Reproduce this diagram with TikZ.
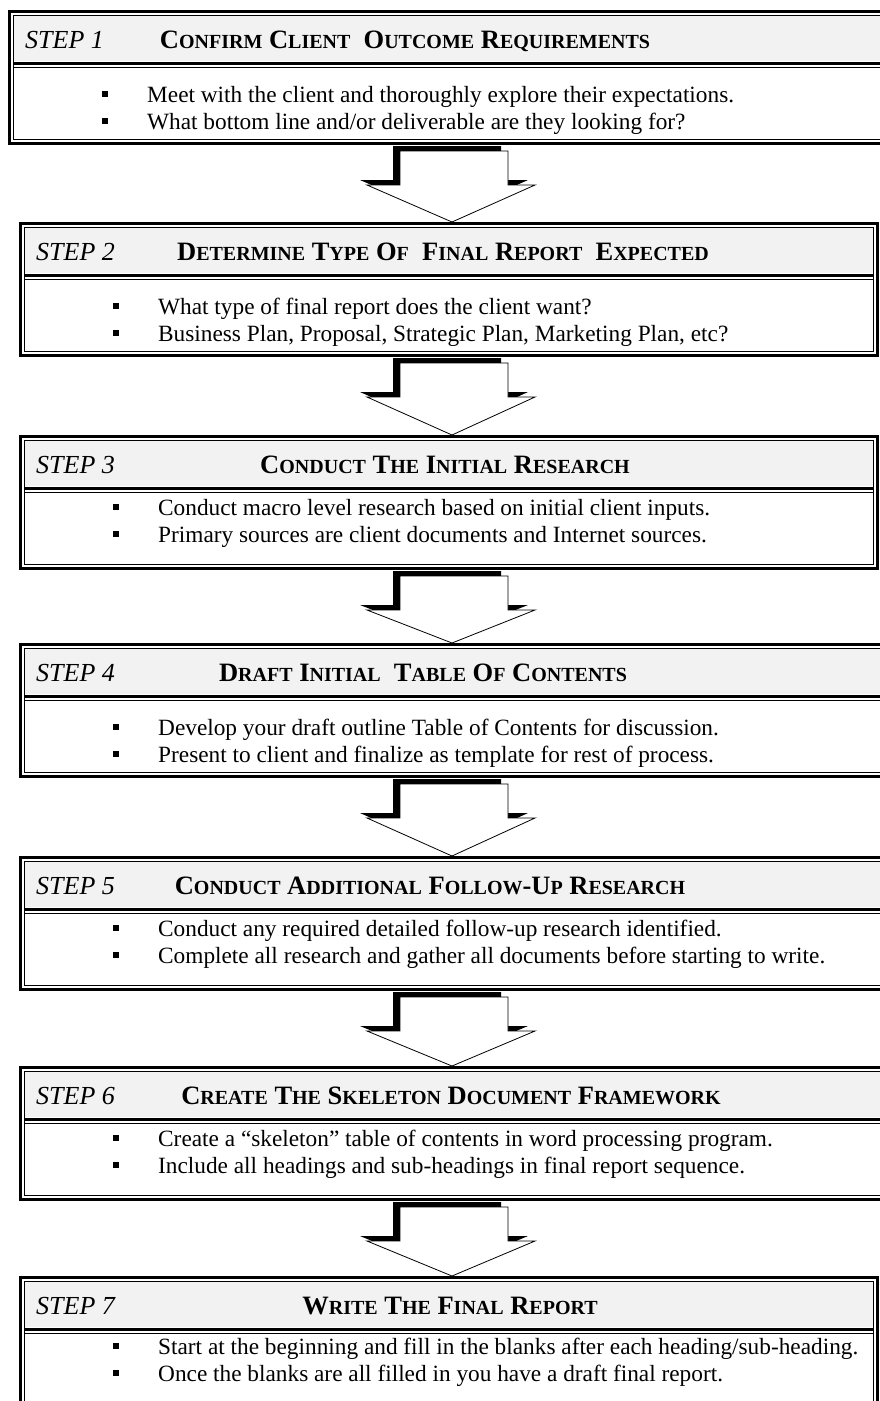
\documentclass[tikz,border=0pt]{standalone}
\usepackage{fontspec}
\setmainfont{Liberation Serif}
\usetikzlibrary{calc}

\definecolor{hdrgray}{HTML}{F2F2F2}
\newcommand\smcp[1]{{\fontsize{20}{20}\selectfont #1}}

\tikzset{
    steplabel/.style={anchor=base west, inner sep=0pt, font=\fontsize{26}{28}\selectfont\itshape},
    titlelabel/.style={anchor=base, inner sep=0pt, font=\fontsize{26.5}{28}\selectfont\bfseries},
    bullettext/.style={anchor=base west, inner sep=0pt, font=\fontsize{23.3}{27}\selectfont},
    bulletmark/.style={fill=black, minimum size=6pt, inner sep=0pt},
    thickrule/.style={line width=3pt},
    thinrule/.style={line width=1pt},
    arrowbody/.style={fill=white, draw=black, line width=0.8pt, line join=miter},
    arrowshade/.style={fill=black},
}

% one step: number, top, left, right, first baseline, title x, title, two lines
\newcommand\stepbox[9]{%
    \begin{scope}[shift={(0,#2)}]
        % Header shading
        \fill[hdrgray] ({#3+6},6) rectangle ({#4-6},51);
        % Double frame
        \draw[thickrule] ({#3+1.5},1.5) rectangle ({#4-1.5},133.5);
        \draw[thinrule] ({#3+5.5},5.5) rectangle ({#4-5.5},129.5);
        % Double rule under the header
        \draw[thickrule] ({#3+5.5},53) -- ({#4-5.5},53);
        \draw[thinrule] ({#3+5.5},57.5) -- ({#4-5.5},57.5);
        % Header texts
        \node[steplabel] (step#1) at ({#3+17},38) {STEP #1};
        \node[titlelabel] (title#1) at (#6,38) {#7};
        % Bullet lines
        \node[bulletmark] (bullet#1a) at ({#3+97},{#5-8}) {};
        \node[bulletmark] (bullet#1b) at ({#3+97},{#5+19}) {};
        \node[bullettext] (line#1a) at ({#3+139},#5) {#8};
        \node[bullettext] (line#1b) at ({#3+139},{#5+27}) {#9};
        \coordinate (top#1) at (452,0);
        \coordinate (bot#1) at (452,135);
    \end{scope}}

% block arrow outline: from, to, dx, dy
\newcommand\arrowoutline[4]{($(#1)+(-52+#3,6+#4)$) -- ($(#1)+(56+#3,6+#4)$)
    -- ($(#1)+(56+#3,40+#4)$) -- ($(#1)+(83+#3,40+#4)$) -- ($(#2)+(#3,#4)$)
    -- ($(#1)+(-85+#3,40+#4)$) -- ($(#1)+(-52+#3,40+#4)$) -- cycle}

\begin{document}
\begin{tikzpicture}[x=1pt,y=-1pt]
    \useasboundingbox (0,0) rectangle (880,1401);
    \clip (0,0) rectangle (880,1401);

    % Steps
    \stepbox{1}{10}{8}{886}{92}{405}
        {C\smcp{ONFIRM} C\smcp{LIENT}\ \ O\smcp{UTCOME} R\smcp{EQUIREMENTS}}
        {Meet with the client and thoroughly explore their expectations.}
        {What bottom line and/or deliverable are they looking for?}
    \stepbox{2}{222}{19}{879}{92}{443}
        {D\smcp{ETERMINE} T\smcp{YPE} O\smcp{F}\ \ F\smcp{INAL} R\smcp{EPORT}\ \ E\smcp{XPECTED}}
        {What type of final report does the client want?}
        {Business Plan, Proposal, Strategic Plan, Marketing Plan, etc?}
    \stepbox{3}{435}{19}{879}{80}{445}
        {C\smcp{ONDUCT} T\smcp{HE} I\smcp{NITIAL} R\smcp{ESEARCH}}
        {Conduct macro level research based on initial client inputs.}
        {Primary sources are client documents and Internet sources.}
    \stepbox{4}{643}{19}{886}{92}{423}
        {D\smcp{RAFT} I\smcp{NITIAL}\ \ T\smcp{ABLE} O\smcp{F} C\smcp{ONTENTS}}
        {Develop your draft outline Table of Contents for discussion.}
        {Present to client and finalize as template for rest of process.}
    \stepbox{5}{856}{19}{886}{80}{430}
        {C\smcp{ONDUCT} A\smcp{DDITIONAL} F\smcp{OLLOW}-U\smcp{P} R\smcp{ESEARCH}}
        {Conduct any required detailed follow-up research identified.}
        {Complete all research and gather all documents before starting to write.}
    \stepbox{6}{1066}{19}{886}{80}{451}
        {C\smcp{REATE} T\smcp{HE} S\smcp{KELETON} D\smcp{OCUMENT} F\smcp{RAMEWORK}}
        {Create a “skeleton” table of contents in word processing program.}
        {Include all headings and sub-headings in final report sequence.}
    \stepbox{7}{1276}{19}{879}{78}{450}
        {W\smcp{RITE} T\smcp{HE} F\smcp{INAL} R\smcp{EPORT}}
        {Start at the beginning and fill in the blanks after each heading/sub-heading.}
        {Once the blanks are all filled in you have a draft final report.}

    % Block arrows with shadow
    \foreach \a/\b in {1/2,2/3,3/4,4/5,5/6,6/7} {
        \fill[arrowshade] \arrowoutline{bot\a}{top\b}{-7}{-5};
        \draw[arrowbody] \arrowoutline{bot\a}{top\b}{0}{0};
    }
\end{tikzpicture}
\end{document}
